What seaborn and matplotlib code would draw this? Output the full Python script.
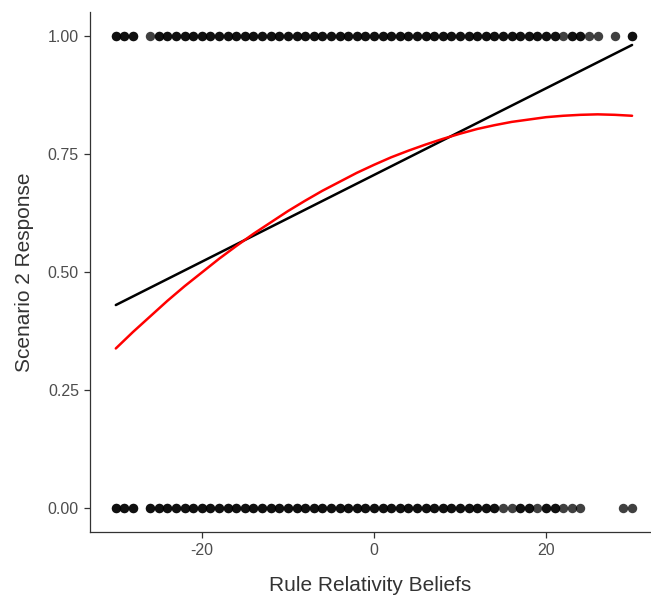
import numpy as np
import pandas as pd
import seaborn as sns
import matplotlib
matplotlib.use("Agg")
import matplotlib.pyplot as plt

# observed responses: x position and how many cases share it
top_x = [-30, -29, -28, -26, -25, -24, -23, -22, -21, -20, -19, -18, -17, -16, -15,
         -14, -13, -12, -11, -10, -9, -8, -7, -6, -5, -4, -3, -2, -1, 0,
         1, 2, 3, 4, 5, 6, 7, 8, 9, 10, 11, 12, 13, 14, 15,
         16, 17, 18, 19, 20, 21, 22, 23, 24, 25, 26, 28, 30]
top_n = [2, 2, 2, 1] + [2] * 47 + [1, 2, 2, 1, 1, 1, 2]

bottom_x = [-30, -29, -28, -26, -25, -24, -23, -22, -21, -20, -19, -18, -17, -16, -15,
            -14, -13, -12, -11, -10, -9, -8, -7, -6, -5, -4, -3, -2, -1, 0,
            1, 2, 3, 4, 5, 6, 7, 8, 9, 10, 11, 12, 13, 14, 15,
            16, 17, 18, 19, 20, 21, 22, 23, 24, 29, 30]
bottom_n = [2, 2, 2] + [2] * 41 + [1, 1, 2, 2, 1, 2, 2, 1, 1, 1, 1, 1]

# fitted lines
lin_x = [-30, 30]
lin_y = [0.430, 0.981]

quad_x = [-30, -28, -26, -24, -22, -20, -18, -16, -14, -12, -10, -8, -6, -4, -2, 0,
          2, 4, 6, 8, 10, 12, 14, 16, 18, 20, 22, 24, 26, 28, 30]
quad_y = [0.338, 0.373, 0.406, 0.439, 0.470, 0.499, 0.528, 0.555, 0.581, 0.605, 0.629,
          0.651, 0.672, 0.691, 0.710, 0.727, 0.743, 0.757, 0.770, 0.782, 0.793,
          0.803, 0.811, 0.818, 0.823, 0.828, 0.831, 0.833, 0.834, 0.833, 0.831]

pts = pd.DataFrame({
    "x": np.repeat(top_x + bottom_x, top_n + bottom_n),
    "y": np.repeat([1.0] * len(top_x) + [0.0] * len(bottom_x), top_n + bottom_n),
})

sns.set_style("ticks")
plt.rcParams["font.family"] = ["Liberation Sans", "DejaVu Sans"]
plt.rcParams["axes.unicode_minus"] = False

fig = plt.figure(figsize=(6.51, 5.96), dpi=100)
ax = fig.add_axes([90 / 651, (596 - 531.6) / 596, (651 - 90) / 651, 519.2 / 596])

sns.scatterplot(data=pts, x="x", y="y", color="black", alpha=0.75, s=46,
                linewidth=0, ax=ax, zorder=2)
sns.lineplot(x=lin_x, y=lin_y, color="black", lw=1.8, estimator=None, sort=False,
             ax=ax, zorder=3)
sns.lineplot(x=quad_x, y=quad_y, color="#ff0000", lw=1.8, estimator=None, sort=False,
             ax=ax, zorder=4)

ax.set_xlim(-33.0, 32.2)
ax.set_ylim(-0.05, 1.05)
ax.set_xticks([-20, 0, 20])
ax.set_yticks([0, 0.25, 0.5, 0.75, 1.0])
ax.set_yticklabels(["0.00", "0.25", "0.50", "0.75", "1.00"])

ax.set_xlabel("Rule Relativity Beliefs", fontsize=15, color="#333333", labelpad=13)
ax.set_ylabel("Scenario 2 Response", fontsize=15, color="#333333", labelpad=10)
ax.tick_params(axis="both", labelsize=11.5, labelcolor="#4d4d4d", color="#333333",
               length=4, width=0.9, pad=4)

sns.despine(ax=ax)
for side in ["left", "bottom"]:
    ax.spines[side].set_color("#333333")
    ax.spines[side].set_linewidth(0.9)

fig.savefig("out.png", dpi=100)
plt.close(fig)
